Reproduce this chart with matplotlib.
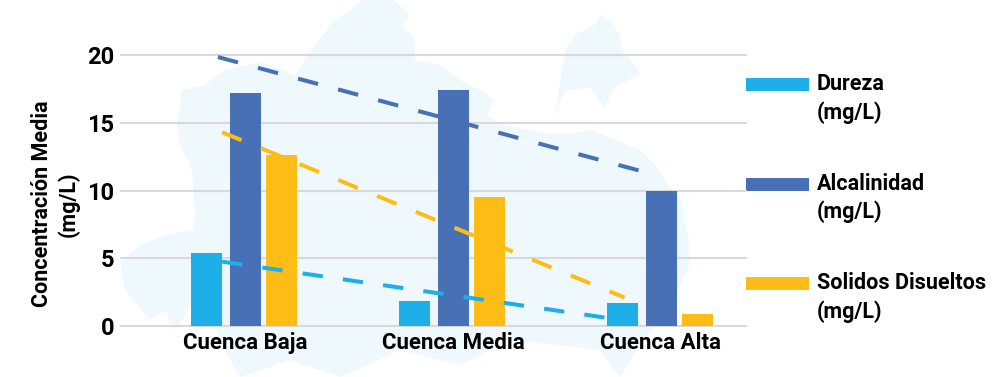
import numpy as np
import matplotlib
matplotlib.use('Agg')
import matplotlib.pyplot as plt

plt.rcParams['font.family'] = ['Roboto', 'DejaVu Sans']
plt.rcParams['font.weight'] = 'bold'

categories = ['Cuenca Baja', 'Cuenca Media', 'Cuenca Alta']
dureza = [5.4, 1.85, 1.7]
alcalinidad = [17.2, 17.4, 10.0]
solidos = [12.6, 9.5, 0.85]

# trend lines, start and end
trend_x_dureza = [-0.11, 1.74]
trend_y_dureza = [4.75, 0.6]
trend_x_alcalinidad = [-0.13, 1.925]
trend_y_alcalinidad = [19.85, 11.35]
trend_x_solidos = [-0.11, 1.825]
trend_y_solidos = [14.3, 2.1]

legend_names = ['Dureza\n(mg/L)', 'Alcalinidad\n(mg/L)', 'Solidos Disueltos\n(mg/L)']
light_blue = '#1eaee8'
dark_blue = '#4870b6'
gold = '#fdbd16'
map_color = '#eef8fd'

# pale map shape behind the chart, in image pixels
map_x = [182, 205, 225, 262, 295, 308, 333, 363, 393, 410, 402, 415, 415, 440, 460, 480, 495, 487, 500, 530,
         560, 590, 640, 655, 665, 680, 688, 690, 672, 640, 620, 600, 560, 510, 460, 400, 340, 290, 240, 222,
         205, 190, 195, 192, 180, 177]
map_y = [90, 85, 70, 62, 75, 55, 22, 0, 0, 15, 25, 40, 60, 65, 80, 90, 100, 115, 125, 130,
         135, 130, 150, 165, 180, 200, 235, 265, 300, 345, 377, 350, 345, 340, 365, 350, 377, 360, 377, 345,
         300, 260, 215, 170, 145, 125]
lobe_x = [565, 575, 595, 600, 610, 620, 622, 640, 628, 612, 605, 590, 565, 555]
lobe_y = [50, 35, 25, 15, 20, 35, 50, 72, 80, 90, 108, 88, 90, 115]
blot_x = [120, 140, 165, 195, 195, 175, 165, 150, 125]
blot_y = [262, 245, 235, 230, 300, 330, 310, 320, 290]

fig = plt.figure(figsize=(9.97, 3.77), dpi=100)

bg = fig.add_axes([0, 0, 1, 1], zorder=0)
bg.set_xlim(0, 997)
bg.set_ylim(377, 0)
bg.axis('off')
bg.fill(map_x, map_y, color=map_color, lw=0)
bg.fill(lobe_x, lobe_y, color=map_color, lw=0)
bg.fill(blot_x, blot_y, color=map_color, lw=0)

ax = fig.add_axes([121 / 997, 1 - 326 / 377, (746 - 121) / 997, (326 - 55) / 377], zorder=1)
ax.patch.set_alpha(0)
x = np.arange(len(categories))

# stacking order as in the picture: the lines sit between the bars
ax.plot(trend_x_alcalinidad, trend_y_alcalinidad, color=dark_blue, lw=2.9, dashes=(5.15, 5.15),
        dash_capstyle='butt', zorder=2, clip_on=False)
ax.bar(x + 0.004, alcalinidad, 0.149, color=dark_blue, zorder=3)
ax.plot(trend_x_solidos, trend_y_solidos, color=gold, lw=2.9, dashes=(5.2, 5.2),
        dash_capstyle='butt', zorder=4, clip_on=False)
ax.bar(x + 0.178, solidos, 0.149, color=gold, zorder=5)
ax.bar(x - 0.185, dureza, 0.149, color=light_blue, zorder=5)
ax.plot(trend_x_dureza, trend_y_dureza, color=light_blue, lw=2.9, dashes=(5.05, 5.05),
        dash_capstyle='butt', zorder=6, clip_on=False)

ax.set_xlim(-0.596, 2.409)
ax.set_ylim(0, 20)
ax.set_yticks([0, 5, 10, 15, 20])
ax.set_xticks(x)
ax.set_xticklabels(categories, fontsize=16)
ax.tick_params(axis='both', length=0)
ax.tick_params(axis='x', pad=4.5)
ax.tick_params(axis='y', labelsize=17, pad=5)
ax.grid(axis='y', color='#d9d9d9', lw=1.5, zorder=1)
ax.set_axisbelow(True)
for s in ax.spines.values():
    s.set_visible(False)
for line in ax.get_ygridlines():
    line.set_clip_on(False)

fig.text(55 / 997, 1 - 204 / 377, 'Concentración Media\n(mg/L)', rotation=90, ha='center', va='center',
         fontsize=15.5, linespacing=1.25)

# legend keys and labels
for i, (name, c) in enumerate(zip(legend_names, [light_blue, dark_blue, gold])):
    top = 78 + i * 99.5
    bg.fill([746, 809, 809, 746], [top, top, top + 13, top + 13], color=c, lw=0)
    bg.text(817, top - 5, name, va='top', ha='left', fontsize=15.5, linespacing=1.36)

fig.savefig('out.png', dpi=100)
